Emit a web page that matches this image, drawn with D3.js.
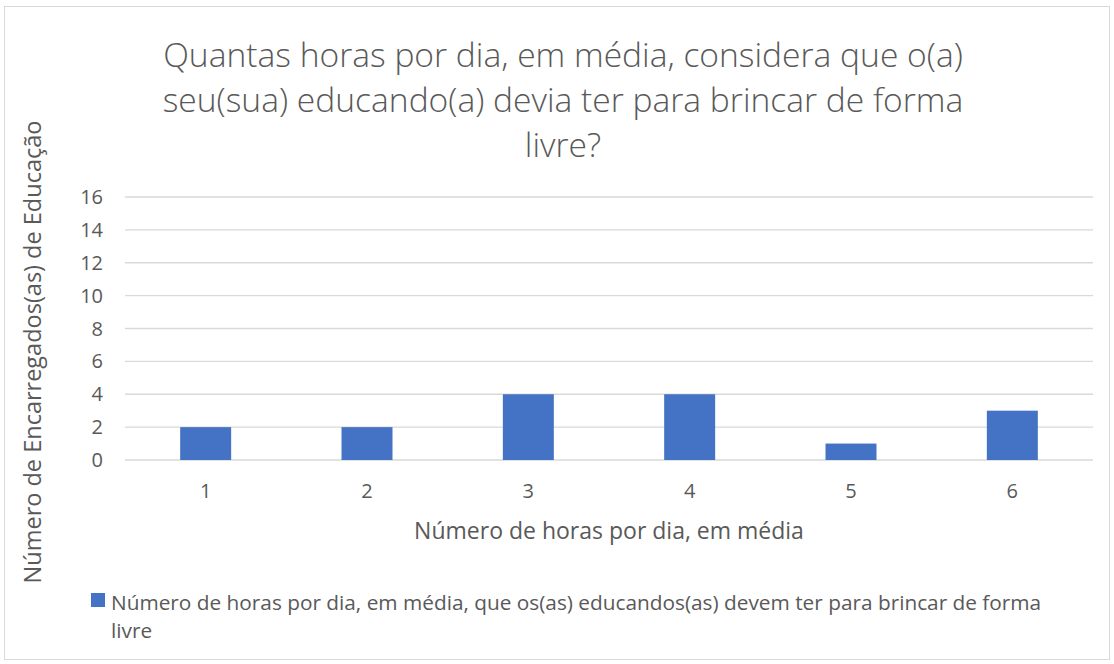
<!DOCTYPE html>
<html><head><meta charset="utf-8">
<script src="https://cdn.jsdelivr.net/npm/d3@7"></script>
<style>body{margin:0;background:#fff}svg{display:block}text{font-family:"Open Sans",sans-serif}</style>
</head><body>
<svg id="c" width="1114" height="664"></svg>
<script>
const categories = ["1","2","3","4","5","6"];
const values = [2,2,4,4,1,3];
const yTicks = [0,2,4,6,8,10,12,14,16];
const titleLines = ["Quantas horas por dia, em média, considera que o(a)","seu(sua) educando(a) devia ter para brincar de forma","livre?"];
const xTitle = "Número de horas por dia, em média";
const yTitle = "Número de Encarregados(as) de Educação";
const legendLines = ["Número de horas por dia, em média, que os(as) educandos(as) devem ter para brincar de forma","livre"];

const svg = d3.select("#c");
const grey = "#595959";
svg.append("rect").attr("x",4.5).attr("y",6.5).attr("width",1105).attr("height",653)
  .attr("fill","#fff").attr("stroke","#d9d9d9").attr("stroke-width",1);

const x = d3.scaleBand().domain(categories).range([125,1093]).paddingInner(0.684).paddingOuter(0.342);
const y = d3.scaleLinear().domain([0,16]).range([460,197]);

svg.append("g").selectAll("line").data(yTicks).join("line")
  .attr("x1",125).attr("x2",1093).attr("y1",d=>y(d)).attr("y2",d=>y(d))
  .attr("stroke","#d9d9d9").attr("stroke-width",1.3);

svg.append("g").selectAll("text").data(yTicks).join("text")
  .attr("x",103).attr("y",d=>y(d)).attr("dy","0.35em").attr("text-anchor","end")
  .attr("fill",grey).attr("font-size",20).text(d=>d);

svg.append("g").selectAll("rect").data(values).join("rect")
  .attr("x",(d,i)=>x(categories[i])).attr("width",x.bandwidth())
  .attr("y",d=>y(d)).attr("height",d=>y(0)-y(d)).attr("fill","#4472c4");

svg.append("g").selectAll("text").data(categories).join("text")
  .attr("x",d=>x(d)+x.bandwidth()/2).attr("y",491).attr("dy","0.35em").attr("text-anchor","middle")
  .attr("fill",grey).attr("font-size",20).text(d=>d);

svg.append("g").selectAll("text").data(titleLines).join("text")
  .attr("x",563).attr("y",(d,i)=>55+i*45).attr("dy","0.35em").attr("text-anchor","middle")
  .attr("fill",grey).attr("font-size",33.6).attr("font-weight",300).attr("font-family","Lato").text(d=>d);

svg.append("text").attr("x",609).attr("y",531).attr("dy","0.35em").attr("text-anchor","middle")
  .attr("fill",grey).attr("font-size",23).text(xTitle);

svg.append("text").attr("transform","translate(33,352) rotate(-90)").attr("dy","0.35em").attr("text-anchor","middle")
  .attr("fill",grey).attr("font-size",23.5).text(yTitle);

svg.append("rect").attr("x",91).attr("y",593).attr("width",14).attr("height",14).attr("fill","#4472c4");
svg.append("g").selectAll("text").data(legendLines).join("text")
  .attr("x",111).attr("y",(d,i)=>603+i*28).attr("dy","0.35em")
  .attr("fill",grey).attr("font-size",20.8).text(d=>d);
</script>
</body></html>
